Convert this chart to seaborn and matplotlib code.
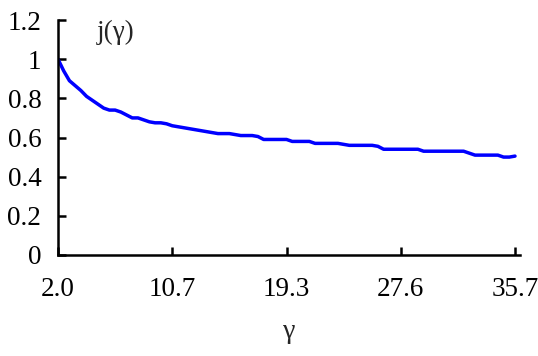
import numpy as np
import pandas as pd
import matplotlib
matplotlib.use("Agg")
import matplotlib.pyplot as plt
import seaborn as sns

# Data (category index -> j(gamma))
j_values = [1.00, 0.94, 0.89, 0.865, 0.84, 0.81, 0.79, 0.77, 0.75, 0.74,
            0.74, 0.73, 0.715, 0.70, 0.70, 0.69, 0.68, 0.675, 0.675, 0.67,
            0.66, 0.655, 0.65, 0.645, 0.64, 0.635, 0.63, 0.625, 0.62, 0.62,
            0.62, 0.615, 0.61, 0.61, 0.61, 0.605, 0.59, 0.59, 0.59, 0.59,
            0.59, 0.58, 0.58, 0.58, 0.58, 0.57, 0.57, 0.57, 0.57, 0.57,
            0.565, 0.56, 0.56, 0.56, 0.56, 0.56, 0.555, 0.54, 0.54, 0.54,
            0.54, 0.54, 0.54, 0.54, 0.53, 0.53, 0.53, 0.53, 0.53, 0.53,
            0.53, 0.53, 0.52, 0.51, 0.51, 0.51, 0.51, 0.51, 0.50, 0.50,
            0.505]
tick_labels = ["2.0", "10.7", "19.3", "27.6", "35.7"]
tick_every = 20
y_ticks = [0, 0.2, 0.4, 0.6, 0.8, 1, 1.2]
y_tick_labels = ["0", "0.2", "0.4", "0.6", "0.8", "1", "1.2"]

df = pd.DataFrame({"idx": np.arange(len(j_values)), "j": j_values})

sns.set_style("white")
plt.rcParams["font.family"] = ["Liberation Serif", "DejaVu Serif"]

fig = plt.figure(figsize=(5.38, 3.56), dpi=100)
ax = fig.add_axes([58/538, 1-255/356, (520-58)/538, (255-20)/356])

sns.lineplot(data=df, x="idx", y="j", ax=ax, color="#0000FF", linewidth=2.5)

ax.set_xlim(0, 80.875)
ax.set_ylim(0, 1.2)
ax.set_xticks([i * tick_every for i in range(len(tick_labels))])
ax.set_xticklabels(tick_labels)
ax.set_yticks(y_ticks)
ax.set_yticklabels(y_tick_labels)

for s in ["top", "right"]:
    ax.spines[s].set_visible(False)
for s in ["left", "bottom"]:
    ax.spines[s].set_linewidth(1.8)
    ax.spines[s].set_color("black")

ax.tick_params(axis="both", which="major", direction="in", length=6, width=1.8,
               labelsize=19.5, colors="black", bottom=True, left=True)
ax.tick_params(axis="y", pad=12)
ax.tick_params(axis="x", pad=16)

ax.set_xlabel("γ", fontsize=20, labelpad=12)
ax.set_ylabel("")
ax.text(0.084, 0.945, "j(γ)", transform=ax.transAxes, fontsize=19.5,
        ha="left", va="center")

fig.savefig("out.png", dpi=100)
